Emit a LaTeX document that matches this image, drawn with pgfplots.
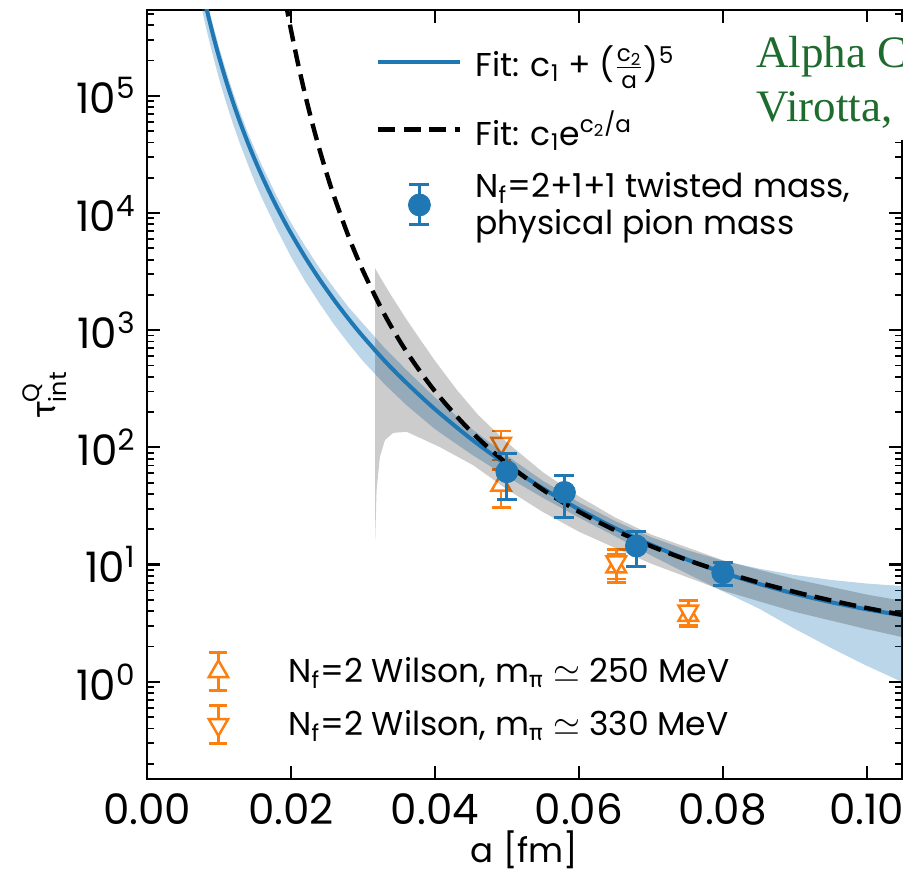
\documentclass[border=0pt]{standalone}
\usepackage{amsmath}
\usepackage{fontspec}
\setmainfont{Poppins}
\newfontfamily\grk{Fira Sans}
\newfontfamily\grfont{Liberation Serif}
\usepackage{pgfplots}
\pgfplotsset{compat=1.18}
\definecolor{c0}{HTML}{1F77B4}
\definecolor{c1}{HTML}{FF7F0E}
\definecolor{grn}{HTML}{1E6B2E}
\newcommand{\lfont}{\fontsize{16.5}{18.5}\selectfont}
\newcommand{\tfont}{\fontsize{21}{24}\selectfont}
\newcommand{\labfont}{\fontsize{17}{20}\selectfont}
\newcommand{\bbox}[4]{\pgfpathrectangle{\pgfpoint{#1}{#2}}{\pgfpoint{#3}{#4}}\pgfusepath{use as bounding box}}
\begin{document}
\begin{tikzpicture}
% ---------- axis 2: Wilson data (underneath) ----------
\begin{axis}[scale only axis, width=377.5pt, height=384.5pt,
  xmin=0, xmax=0.1049, ymode=log, ymin=0.148, ymax=5.4e5,
  hide axis,
  legend style={draw=none, fill=none, inner sep=0pt, at={(rel axis cs:0.0464,0.039)},
    anchor=south west, row sep=2.5pt, nodes={inner sep=0pt}, font=\lfont,
    /tikz/every odd column/.append style={column sep=17pt}},
  legend cell align=left]
\addplot[only marks, mark=triangle*, mark size=5.6pt,
  mark options={draw=c1, fill=white, line width=1.25pt},
  legend image code/.code={
    \bbox{-18pt}{-12pt}{36pt}{24pt}
    \draw[c1, line width=1.25pt] (0pt,-9.5pt)--(0pt,9.5pt) (-4.5pt,-9.5pt)--(4.5pt,-9.5pt) (-4.5pt,9.5pt)--(4.5pt,9.5pt);
    \draw[mark=triangle*, mark size=5.6pt, mark options={draw=c1, fill=white, line width=1.25pt}] plot coordinates {(0pt,0pt)};},
  error bars/.cd, y dir=both, y explicit,
  error bar style={c1, line width=1.25pt},
  error mark options={rotate=90, mark size=4.8pt, line width=1.25pt, c1}]
  coordinates {(0.0492,47.7) +- (0,17) (0.0652,9.6) +- (0,2.6) (0.0752,3.7) +- (0,0.75)};
\addlegendentry{N$_{\text{f}}$=2 Wilson, m$_{\text{\grk π}}\simeq$ 250 MeV}
\addplot[only marks, mark=triangle*, mark size=5.6pt,
  mark options={draw=c1, fill=white, line width=1.25pt, rotate=180},
  legend image code/.code={
    \bbox{-18pt}{-12pt}{36pt}{24pt}
    \draw[c1, line width=1.25pt] (0pt,-9.5pt)--(0pt,9.5pt) (-4.5pt,-9.5pt)--(4.5pt,-9.5pt) (-4.5pt,9.5pt)--(4.5pt,9.5pt);
    \draw[mark=triangle*, mark size=5.6pt, mark options={draw=c1, fill=white, line width=1.25pt, rotate=180}] plot coordinates {(0pt,0pt)};},
  error bars/.cd, y dir=both, y explicit,
  error bar style={c1, line width=1.25pt},
  error mark options={rotate=90, mark size=4.8pt, line width=1.25pt, c1}]
  coordinates {(0.0492,108) +- (0,30) (0.0652,10.5) +- (0,3.0) (0.0752,4.0) +- (0,0.95)};
\addlegendentry{N$_{\text{f}}$=2 Wilson, m$_{\text{\grk π}}\simeq$ 330 MeV}
\end{axis}
% ---------- axis 1: fits and twisted mass data ----------
\begin{axis}[scale only axis, width=377.5pt, height=384.5pt,
  xmin=0, xmax=0.1049, ymode=log, ymin=0.148, ymax=5.4e5,
  axis line style={line width=1.3pt},
  tick pos=both, tick align=inside,
  major tick length=6.5pt, minor tick length=3.5pt,
  every major tick/.style={black, line width=1.1pt},
  every minor tick/.style={black, line width=0.9pt},
  xtick={0,0.02,0.04,0.06,0.08,0.1},
  xticklabels={0.00,0.02,0.04,0.06,0.08,0.10},
  ytick={1,10,100,1000,10000,100000},
  yticklabels={10\textsuperscript{0},10\textsuperscript{1},10\textsuperscript{2},10\textsuperscript{3},10\textsuperscript{4},10\textsuperscript{5}},
  minor ytick={0.2,0.3,0.4,0.5,0.6,0.7,0.8,0.9,2,3,4,5,6,7,8,9,20,30,40,50,60,70,80,90,200,300,400,500,600,700,800,900,2000,3000,4000,5000,6000,7000,8000,9000,20000,30000,40000,50000,60000,70000,80000,90000,200000,300000,400000,500000},
  xticklabel style={font=\tfont, inner sep=0pt, yshift=-7pt},
  yticklabel style={font=\tfont, inner sep=0pt, xshift=-5.5pt},
  xlabel={a [fm]}, ylabel={{\grk τ}$^{\text{Q}}_{\text{int}}$},
  xlabel style={font=\labfont, at={(rel axis cs:0.5,-0.0923)}, anchor=center},
  ylabel style={font=\labfont, at={(rel axis cs:-0.1351,0.5)}, anchor=center},
  legend style={draw=none, fill=none, inner sep=0pt, at={(rel axis cs:0.306,0.9636)},
    anchor=north west, row sep=9.5pt, nodes={inner sep=0pt}, font=\lfont,
    cells={align=left},
    /tikz/every odd column/.append style={column sep=7.5pt}},
  legend cell align=left]
\coordinate (BL) at (rel axis cs:0,0);
\coordinate (TR) at (rel axis cs:1,1);
\coordinate (TL) at (rel axis cs:0,1);
% blue band
\addplot[draw=none, fill=c0, fill opacity=0.3, forget plot] coordinates {
(0.0075,1090000) (0.008,788700) (0.0085,582600) (0.009,437800) (0.010,261500) (0.011,162400)
(0.012,105080) (0.013,70430) (0.014,48620) (0.015,34830) (0.016,25230) (0.018,14000)
(0.020,8267) (0.022,5192) (0.024,3360) (0.026,2279) (0.028,1572) (0.030,1140) (0.033,707)
(0.036,460.7) (0.040,266.9) (0.045,145.8) (0.050,85.1) (0.055,51.9) (0.060,34.0) (0.065,23.6)
(0.070,17.2) (0.075,13.3) (0.080,10.8) (0.085,9.24) (0.090,8.15) (0.095,7.40) (0.100,6.89) (0.105,6.55)
(0.105,0.99) (0.100,1.37) (0.095,1.95) (0.090,2.83) (0.085,4.22) (0.080,5.92) (0.075,8.39)
(0.070,12.0) (0.065,17.5) (0.060,25.2) (0.055,37.2) (0.050,56.2) (0.045,87.8) (0.040,143.3)
(0.036,230.9) (0.033,346.4) (0.030,545.7) (0.028,770) (0.026,1116) (0.024,1684) (0.022,2602)
(0.020,4240) (0.018,7347) (0.016,13240) (0.015,18280) (0.014,26110) (0.013,37820) (0.012,56430)
(0.011,87190) (0.010,140400) (0.009,240600) (0.0085,320200) (0.008,433400) (0.0075,599000)
} -- cycle;
% gray band
\addplot[draw=none, fill=black, fill opacity=0.2, forget plot] coordinates {
(0.0317,3369) (0.0325,2763) (0.034,1947) (0.036,1250) (0.038,826) (0.040,549.5) (0.043,312)
(0.046,189.4) (0.050,110.3) (0.055,61.4) (0.060,38.2) (0.065,25.3) (0.070,18.1) (0.080,10.9)
(0.090,7.52) (0.100,5.55) (0.105,4.90)
(0.105,2.40) (0.100,2.81) (0.090,3.95) (0.080,6.0) (0.070,10.2) (0.065,13.9) (0.060,19.1)
(0.055,28.1) (0.050,43.9) (0.0453,70.6) (0.0407,100.5) (0.038,120) (0.03607,135.8) (0.03421,133)
(0.03306,115.3) (0.03236,83.2) (0.0319,43.2) (0.0317,16.2)
} -- cycle;
% fit 1
\addplot[c0, line width=2pt, smooth,
  legend image code/.code={\bbox{0pt}{-12pt}{41pt}{24pt}\draw[c0, line width=2pt] (0pt,0pt)--(41pt,0pt);}]
coordinates {
(0.0078,744700) (0.008,656000) (0.0085,484600) (0.009,364100) (0.0095,277850) (0.010,215000)
(0.011,133500) (0.012,86400) (0.013,57906) (0.014,39977) (0.015,28313) (0.016,20504) (0.017,15144)
(0.018,11378) (0.019,8685) (0.020,6719) (0.022,4172) (0.024,2700) (0.026,1810) (0.028,1249)
(0.030,885) (0.033,549) (0.036,357.6) (0.040,212) (0.045,118.5) (0.050,70.8) (0.055,44.7)
(0.060,29.65) (0.065,20.53) (0.070,14.79) (0.075,11.06) (0.080,8.56) (0.085,6.85) (0.090,5.64)
(0.095,4.78) (0.100,4.15) (0.105,3.685)};
\addlegendentry{Fit: c$_{\text{1}}$ + ($\frac{\text{c}_{\text{2}}}{\text{a}}$)$^{\text{5}}$}
% fit 2
\addplot[black, line width=2.2pt, dash pattern=on 8.5pt off 4.2pt, smooth,
  legend image code/.code={\bbox{0pt}{-12pt}{41pt}{24pt}\draw[black, line width=2.2pt, dash pattern=on 8.5pt off 4.2pt] (0pt,0pt)--(41pt,0pt);}]
coordinates {
(0.0192,661000) (0.020,366000) (0.021,186000) (0.022,100600) (0.023,57400) (0.024,34290)
(0.025,21370) (0.026,13800) (0.028,6328) (0.030,3219) (0.033,1361) (0.036,664) (0.040,301.9)
(0.045,137.1) (0.050,72.9) (0.055,43.5) (0.060,28.3) (0.065,19.66) (0.070,14.39) (0.075,10.98)
(0.080,8.67) (0.085,7.03) (0.090,5.84) (0.095,4.95) (0.100,4.26) (0.105,3.72)};
\addlegendentry{Fit: c$_{\text{1}}$e$^{\text{c}_{\text{2}}\text{/a}}$}
% twisted mass data
\addplot[only marks, mark=*, mark size=5.5pt, c0,
  legend image code/.code={
    \bbox{0pt}{-12pt}{41pt}{24pt}
    \draw[c0, line width=1.5pt] (20.5pt,-10pt)--(20.5pt,10pt) (15.5pt,-10pt)--(25.5pt,-10pt) (15.5pt,10pt)--(25.5pt,10pt);
    \draw[mark=*, mark size=5.5pt, c0] plot coordinates {(20.5pt,0pt)};},
  error bars/.cd, y dir=both, y explicit,
  error bar style={c0, line width=1.5pt},
  error mark options={rotate=90, mark size=5pt, line width=1.5pt, c0}]
coordinates {(0.050,62) +- (0,26) (0.058,41.3) +- (0,16) (0.068,14.4) +- (0,4.8) (0.080,8.5) +- (0,1.9)};
\addlegendentry{N$_{\text{f}}$=2+1+1 twisted mass,\\physical pion mass}
\end{axis}
% annotation partly cut by the page edge
\fill[white] ([xshift=299pt,yshift=-6pt]TL) rectangle ([xshift=385pt,yshift=-65pt]TL);
\node[anchor=base west, inner sep=0pt, text=grn, font=\grfont\fontsize{22.5}{27}\selectfont] at ([xshift=304.5pt,yshift=-29pt]TL) {Alpha Collaboration};
\node[anchor=base west, inner sep=0pt, text=grn, font=\grfont\fontsize{22.5}{27}\selectfont] at ([xshift=304.5pt,yshift=-56pt]TL) {Virotta, Schaefer};
\pgfresetboundingbox
\path[use as bounding box] ([xshift=-73.5pt,yshift=-47pt]BL) rectangle ([xshift=0.5pt,yshift=5pt]TR);
\end{tikzpicture}
\end{document}
